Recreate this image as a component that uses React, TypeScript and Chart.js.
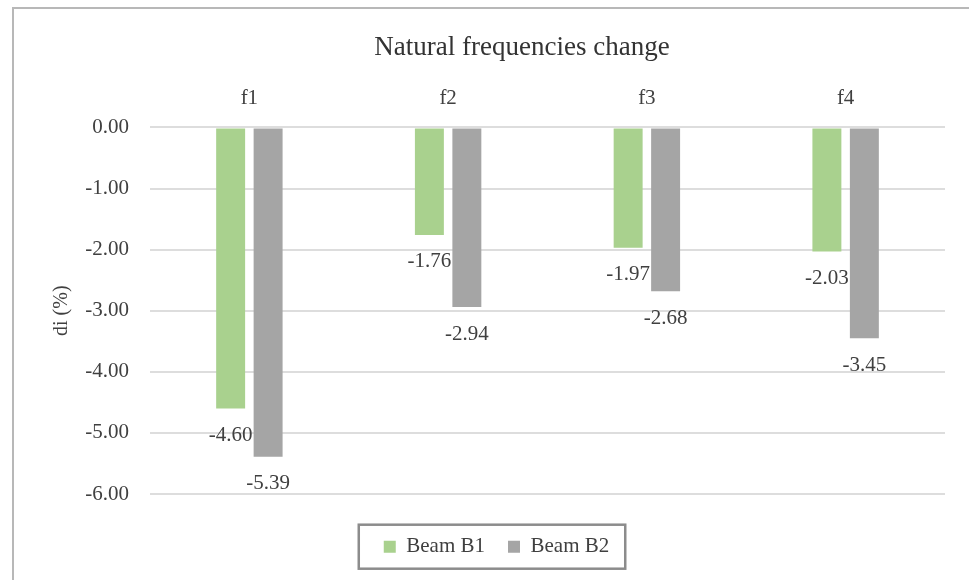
import { useEffect, useRef } from 'react';
import { Chart, registerables } from 'chart.js';

Chart.register(...registerables);

const categories = ['f1', 'f2', 'f3', 'f4'];
const beamB1 = [-4.6, -1.76, -1.97, -2.03];
const beamB2 = [-5.39, -2.94, -2.68, -3.45];
const seriesNames = ['Beam B1', 'Beam B2'];
const seriesColors = ['#A9D18E', '#A5A5A5'];
const yMin = -6;
const yMax = 0;
const yStep = 1;
const chartTitle = 'Natural frequencies change';
const yTitle = 'di (%)';

const FONT = "'Liberation Serif', 'Times New Roman', serif";
const TEXT = '#404040';

const framePlugin = {
  id: 'outerFrame',
  beforeDraw(chart: any) {
    const { ctx } = chart;
    ctx.save();
    ctx.strokeStyle = '#B8B8B8';
    ctx.lineWidth = 2;
    ctx.beginPath();
    ctx.moveTo(13, chart.height);
    ctx.lineTo(13, 8);
    ctx.lineTo(chart.width, 8);
    ctx.stroke();
    ctx.restore();
  },
};

const titlePlugin = {
  id: 'chartTitleText',
  afterDraw(chart: any) {
    const { ctx } = chart;
    ctx.save();
    ctx.font = `27px ${FONT}`;
    ctx.fillStyle = '#333333';
    ctx.textAlign = 'center';
    ctx.textBaseline = 'middle';
    ctx.fillText(chartTitle, 522, 48);
    ctx.restore();
  },
};

const dataLabelPlugin = {
  id: 'barValueLabels',
  afterDatasetsDraw(chart: any) {
    const { ctx } = chart;
    ctx.save();
    ctx.font = `21px ${FONT}`;
    ctx.fillStyle = TEXT;
    ctx.textAlign = 'center';
    ctx.textBaseline = 'middle';
    chart.data.datasets.forEach((ds: any, di: number) => {
      const meta = chart.getDatasetMeta(di);
      meta.data.forEach((el: any, i: number) => {
        const v = ds.data[i] as number;
        ctx.fillText(v.toFixed(2), el.x, el.y + 27);
      });
    });
    ctx.restore();
  },
};

const legendFramePlugin = {
  id: 'legendFrame',
  afterDraw(chart: any) {
    const lg = chart.legend;
    if (!lg || !lg.legendHitBoxes || !lg.legendHitBoxes.length) return;
    const boxes = lg.legendHitBoxes;
    let left = Infinity;
    let right = -Infinity;
    boxes.forEach((b: any) => {
      left = Math.min(left, b.left);
      right = Math.max(right, b.left + b.width);
    });
    const cy = boxes[0].top + boxes[0].height / 2;
    const { ctx } = chart;
    ctx.save();
    ctx.strokeStyle = '#8C8C8C';
    ctx.lineWidth = 2.5;
    ctx.strokeRect(left - 25, cy - 22, right - left + 41, 44);
    ctx.restore();
  },
};

export default function App() {
  const ref = useRef<HTMLCanvasElement | null>(null);

  useEffect(() => {
    document.body.style.margin = '0';
    if (!ref.current) return;
    const chart = new Chart(ref.current, {
      type: 'bar',
      data: {
        labels: categories,
        datasets: [
          {
            label: seriesNames[0],
            data: beamB1,
            backgroundColor: seriesColors[0],
            borderWidth: 0,
            categoryPercentage: 0.377,
            barPercentage: 0.773,
          },
          {
            label: seriesNames[1],
            data: beamB2,
            backgroundColor: seriesColors[1],
            borderWidth: 0,
            categoryPercentage: 0.377,
            barPercentage: 0.773,
          },
        ],
      },
      options: {
        responsive: false,
        animation: false,
        layout: { padding: { left: 48, right: 24, top: 77.4, bottom: 12.8 } },
        plugins: {
          title: { display: false },
          tooltip: { enabled: false },
          legend: {
            display: true,
            position: 'bottom',
            title: { display: true, text: '', padding: { top: 18, bottom: 0 }, font: { size: 1 } },
            labels: {
              font: { family: FONT, size: 21 },
              color: TEXT,
              boxWidth: 12,
              boxHeight: 12,
              padding: 23,
            },
          },
        },
        scales: {
          x: {
            position: 'top',
            grid: { display: false },
            border: { display: false },
            ticks: {
              font: { family: FONT, size: 21 },
              color: TEXT,
              padding: 8.4,
            },
          },
          y: {
            min: yMin,
            max: yMax,
            afterFit(scale: any) {
              scale.width = 102;
            },
            grid: { color: '#DDDDDD', lineWidth: 2, drawTicks: false },
            border: { display: false },
            ticks: {
              stepSize: yStep,
              font: { family: FONT, size: 21 },
              color: TEXT,
              padding: 21,
              callback: (v: any) => Number(v).toFixed(2),
            },
            title: {
              display: true,
              text: yTitle,
              font: { family: FONT, size: 20 },
              color: TEXT,
              padding: { top: 2, bottom: 0 },
            },
          },
        },
      },
      plugins: [framePlugin, titlePlugin, dataLabelPlugin, legendFramePlugin],
    });
    return () => chart.destroy();
  }, []);

  return (
    <div style={{ width: 969, height: 580 }}>
      <canvas ref={ref} width={969} height={580} style={{ display: 'block', width: 969, height: 580 }} />
    </div>
  );
}
